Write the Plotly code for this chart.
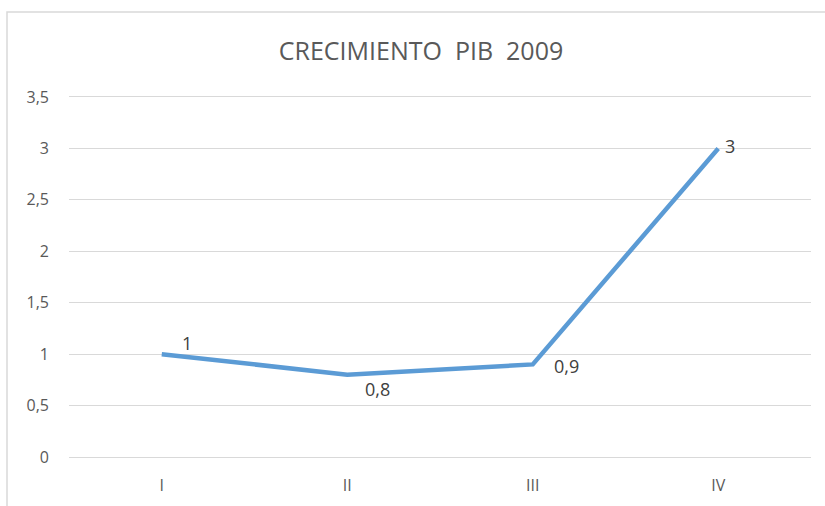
import plotly.graph_objects as go

title = "CRECIMIENTO\u00a0 PIB\u00a0 2009"
quarters = ["I", "II", "III", "IV"]
growth = [1, 0.8, 0.9, 3]
value_labels = ["1", "0,8", "0,9", "3"]
label_shift_x = [18, 16, 19, 5]
label_shift_y = [11, -14, -2, 2]
y_ticks = [0, 0.5, 1, 1.5, 2, 2.5, 3, 3.5]

W, H = 825, 506
L, R, T, B = 69, 14, 97, 49
pw, ph = W - L - R, H - T - B

def px_to_paper_x(px):
    return (px - L) / pw

def px_to_paper_y(py):
    return (H - B - py) / ph

fig = go.Figure()
fig.add_trace(go.Scatter(
    x=quarters, y=growth, mode="lines",
    line=dict(color="#5b9bd5", width=4.5),
    hoverinfo="skip", showlegend=False,
))

for q, v, t, dx, dy in zip(quarters, growth, value_labels, label_shift_x, label_shift_y):
    fig.add_annotation(x=q, y=v, text=t, showarrow=False, xanchor="left",
                       yanchor="middle", xshift=dx, yshift=dy,
                       font=dict(family="Open Sans", size=18, color="#404040"))

# outer chart border
fig.add_shape(type="rect", xref="paper", yref="paper",
              x0=px_to_paper_x(7), x1=px_to_paper_x(840),
              y0=px_to_paper_y(520), y1=px_to_paper_y(12),
              line=dict(color="#d9d9d9", width=1.5), fillcolor="rgba(0,0,0,0)", layer="below")

fig.update_layout(
    width=W, height=H,
    margin=dict(l=L, r=R, t=T, b=B, autoexpand=False),
    paper_bgcolor="white", plot_bgcolor="white",
    separators=",.",
    title=dict(text=title, x=421 / W, xref="container", xanchor="center",
               y=1 - 51 / H, yref="container", yanchor="middle",
               font=dict(family="Open Sans", size=25, color="#595959")),
    xaxis=dict(type="category", range=[-0.5, 3.5], showgrid=False, automargin=False,
               showline=True, mirror=True, linecolor="#d9d9d9", linewidth=1,
               zeroline=False, ticks="", ticklabelstandoff=14,
               tickfont=dict(family="Open Sans", size=16, color="#595959")),
    yaxis=dict(range=[0, 3.5], tickvals=y_ticks, showgrid=True, gridcolor="#d9d9d9",
               gridwidth=1, zeroline=False, showline=False, ticks="", automargin=False,
               ticklabelstandoff=19,
               tickfont=dict(family="Open Sans", size=16, color="#595959")),
)

fig.write_html("out.html", config={"displayModeBar": False},
               post_script="document.body.style.margin='0';")
